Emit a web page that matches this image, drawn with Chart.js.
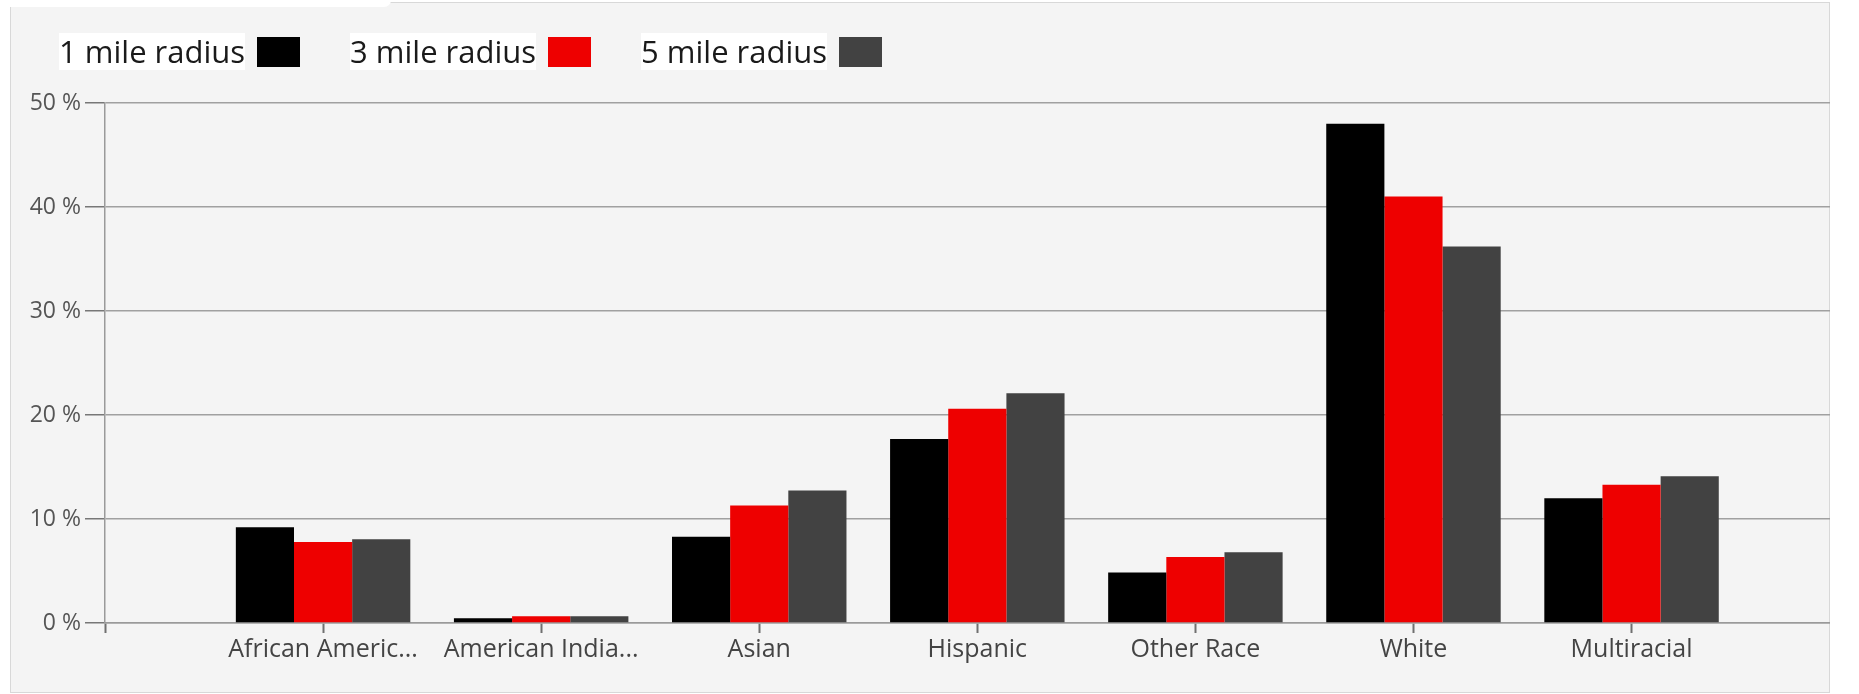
<!DOCTYPE html>
<html>

<head>
  <meta charset="UTF-8">
  <title>Race distribution</title>
  <script src="https://cdn.jsdelivr.net/npm/chart.js"></script>
  <style>
    body {
      margin: 0;
      background: white;
      font-family: "Open Sans", sans-serif;
    }

    #panel {
      position: absolute;
      left: 10px;
      top: 2px;
      width: 1818px;
      height: 689px;
      background: #f4f4f4;
      border: 1px solid #d8d8d8;
    }

    #tab {
      position: absolute;
      left: 0;
      top: 0;
      width: 391px;
      height: 7px;
      background: white;
      border-bottom-right-radius: 8px;
    }

    #legend {
      position: absolute;
      left: 59px;
      top: 33px;
      display: flex;
      align-items: center;
    }

    .item {
      display: flex;
      align-items: center;
      width: 291px;
      flex-shrink: 0;
    }

    .item span {
      background: white;
      font-size: 31px;
      line-height: 37px;
      color: #1a1a1a;
    }

    .item i {
      display: inline-block;
      width: 43px;
      height: 30px;
      margin-left: 12px;
    }

    #myChart {
      position: absolute;
      left: 10px;
      top: 0;
    }
  </style>
</head>

<body>
  <div id="panel"></div>
  <div id="tab"></div>
  <canvas id="myChart" width="1820" height="694"></canvas>
  <div id="legend"></div>

  <script>
    const categories = ['African American', 'American Indian', 'Asian', 'Hispanic', 'Other Race', 'White', 'Multiracial'];
    const seriesNames = ['1 mile radius', '3 mile radius', '5 mile radius'];
    const oneMile = [9.2, 0.46, 8.3, 17.7, 4.85, 48.0, 12.0];
    const threeMile = [7.8, 0.65, 11.3, 20.6, 6.35, 41.0, 13.3];
    const fiveMile = [8.05, 0.65, 12.75, 22.1, 6.8, 36.2, 14.1];
    const yTicks = [0, 10, 20, 30, 40, 50];
    const colors = ['#000000', '#ee0000', '#424242'];

    const allValues = [oneMile, threeMile, fiveMile];

    // legend: text first, then the colour box
    const legend = document.getElementById('legend');
    seriesNames.forEach((name, i) => {
      const item = document.createElement('div');
      item.className = 'item';
      const txt = document.createElement('span');
      txt.textContent = name;
      const box = document.createElement('i');
      box.style.background = colors[i];
      item.appendChild(txt);
      item.appendChild(box);
      legend.appendChild(item);
    });

    function shortName(s) {
      if (s.length > 14)
        return s.slice(0, 14) + '...';
      return s;
    }

    const datasets = seriesNames.map((name, i) => ({
      label: name,
      data: categories.map((c, k) => ({ x: k + 1, y: allValues[i][k] })),
      backgroundColor: colors[i],
      borderWidth: 0,
      barPercentage: 1.0,
      categoryPercentage: 0.8
    }));

    const ctx = document.getElementById('myChart').getContext('2d');
    const myChart = new Chart(ctx, {
      type: 'bar',
      data: { datasets: datasets },
      options: {
        responsive: false,
        animation: false,
        layout: { padding: { top: 103, right: 0, bottom: 0, left: 0 } },
        plugins: {
          legend: { display: false },
          tooltip: { enabled: false }
        },
        scales: {
          x: {
            type: 'linear',
            min: 0,
            max: 7.91,
            offset: false,
            afterFit: s => { s.height = 71; },
            grid: {
              offset: false,
              drawOnChartArea: false,
              drawTicks: true,
              tickLength: 10,
              tickColor: '#707070',
              tickWidth: 2
            },
            border: { color: '#9a9a9a', width: 1.5 },
            ticks: {
              stepSize: 1,
              includeBounds: false,
              autoSkip: false,
              maxRotation: 0,
              padding: 2,
              color: '#444',
              font: { family: 'Open Sans', size: 25 },
              callback: v => shortName(categories[v - 1] || '')
            }
          },
          y: {
            min: yTicks[0],
            max: yTicks[yTicks.length - 1],
            afterFit: s => { s.width = 95; },
            afterBuildTicks: s => { s.ticks = yTicks.map(v => ({ value: v })); },
            grid: {
              color: '#a0a0a0',
              lineWidth: 1.5,
              tickLength: 20,
              tickColor: '#777'
            },
            border: { color: '#9a9a9a', width: 1.5 },
            ticks: {
              padding: 4,
              color: '#555',
              font: { family: 'Open Sans', size: 23 },
              callback: v => v + ' %'
            }
          }
        }
      }
    });
  </script>

</body>

</html>
